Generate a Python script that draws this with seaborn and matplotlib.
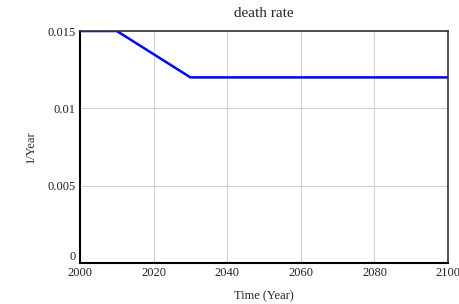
import matplotlib
matplotlib.use("Agg")
import matplotlib.pyplot as plt
import seaborn as sns
import pandas as pd

# Data
years = [2000, 2010, 2030, 2100]
death_rate = [0.015, 0.015, 0.012, 0.012]
x_ticks = [2000, 2020, 2040, 2060, 2080, 2100]
y_ticks = [0, 0.005, 0.01, 0.015]
y_tick_labels = ["0", "0.005", "0.01", "0.015"]

df = pd.DataFrame({"year": years, "rate": death_rate})

sns.set_style("white")
plt.rcParams["font.family"] = ["Liberation Serif", "DejaVu Serif"]

fig = plt.figure(figsize=(4.6, 3.04), dpi=100)
ax = fig.add_axes([0.174, 0.135, 0.800, 0.763])

sns.lineplot(data=df, x="year", y="rate", color="#0000ff", linewidth=1.8, ax=ax)

ax.set_xlim(2000, 2100)
ax.set_ylim(0, 0.015)
ax.set_xticks(x_ticks)
ax.set_yticks(y_ticks)
ax.set_yticklabels(y_tick_labels)
ax.grid(True, color="#d0d0d0", linewidth=0.8)
ax.tick_params(length=0, labelsize=9, colors="#222222")
ax.tick_params(axis="x", pad=3)
ax.tick_params(axis="y", pad=3)
# bottom label "0" sits above the axis line like in the reference
ax.get_yticklabels()[0].set_verticalalignment("bottom")

for side in ["left", "bottom"]:
    ax.spines[side].set_color("black")
    ax.spines[side].set_linewidth(1.5)
for side in ["top", "right"]:
    ax.spines[side].set_color("#333333")
    ax.spines[side].set_linewidth(1.2)

ax.set_title("death rate", fontsize=11, pad=10)
ax.set_xlabel("Time (Year)", fontsize=9, labelpad=8)
ax.set_ylabel("1/Year", fontsize=9, labelpad=8)

fig.savefig("out.png", dpi=100)
